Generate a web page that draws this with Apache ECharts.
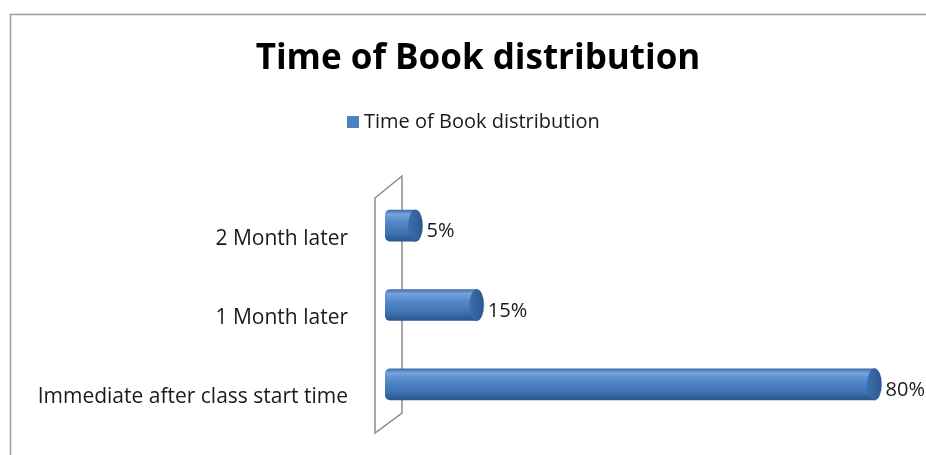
<!DOCTYPE html>
<html>
<head>
<meta charset="utf-8">
<script src="https://cdn.jsdelivr.net/npm/echarts@6/dist/echarts.min.js"></script>
<style>
  html, body { margin: 0; padding: 0; background: #fff; }
  #chart { width: 926px; height: 455px; }
</style>
</head>
<body>
<div id="chart"></div>
<script>
var categories = ['Immediate after class start time', '1 Month later', '2 Month later'];
var percents = [80, 15, 5];
var seriesName = 'Time of Book distribution';

// layout of the plot (px)
var gridLeft = 385, gridTop = 186, gridHeight = 238;

var myChart = echarts.init(document.getElementById('chart'));

var bodyGrad = new echarts.graphic.LinearGradient(0, 0, 0, 1, [
    {offset: 0, color: '#3a69a6'},
    {offset: 0.14, color: '#76a3dd'},
    {offset: 0.35, color: '#578bcc'},
    {offset: 0.75, color: '#3d71b2'},
    {offset: 1, color: '#28538b'}
]);
var capGrad = new echarts.graphic.LinearGradient(0, 0, 1, 0, [
    {offset: 0, color: '#3e6fae'},
    {offset: 1, color: '#2a5790'}
]);

var barData = percents.map(function (v, i) { return [v, i]; });

function renderBar(params, api) {
    var cat = api.value(1);
    var start = api.coord([0, cat]);
    var end = api.coord([api.value(0), cat]);
    var h = api.size([0, 1])[1] * 0.4;
    var rx = 7;
    return {
        type: 'group',
        children: [
            {
                type: 'rect',
                shape: {x: start[0], y: start[1] - h / 2, width: end[0] - start[0], height: h, r: [5, 0, 0, 5]},
                style: {fill: bodyGrad}
            },
            {
                type: 'circle',
                shape: {cx: 0, cy: 0, r: h / 2},
                x: end[0], y: end[1],
                scaleX: rx / (h / 2),
                style: {fill: capGrad, stroke: '#2b5a93', lineWidth: 0.5}
            },
            {
                type: 'text',
                x: end[0] + rx + 4, y: end[1] + 6,
                style: {
                    text: api.value(0) + '%',
                    fill: '#1a1a1a',
                    font: '20px "Open Sans"',
                    verticalAlign: 'middle',
                    align: 'left'
                }
            }
        ]
    };
}

var wx = gridLeft, wTop = gridTop, wBottom = gridTop + gridHeight;

var option = {
    backgroundColor: '#fff',
    animation: false,
    title: {
        text: 'Time of Book distribution',
        left: 473,
        textAlign: 'center',
        top: 37,
        textStyle: {
            fontFamily: 'Open Sans',
            fontWeight: 'bold',
            fontSize: 35,
            color: '#000'
        }
    },
    legend: {
        data: [seriesName],
        left: 342,
        top: 107,
        icon: 'rect',
        itemWidth: 12,
        itemHeight: 12,
        itemGap: 6,
        textStyle: {
            fontFamily: 'Open Sans',
            fontSize: 20,
            color: '#1a1a1a'
        }
    },
    graphic: [
        {
            type: 'rect',
            left: 8, top: 12,
            shape: {width: 1200, height: 900},
            style: {fill: 'none', stroke: '#9a9a9a', lineWidth: 1.5},
            z: 0
        },
        {
            type: 'polygon',
            shape: {points: [[wx - 10, wTop + 12], [wx + 17, wTop - 10], [wx + 17, wBottom - 11], [wx - 10, wBottom + 9]]},
            style: {fill: '#fff', stroke: '#8c8c8c', lineWidth: 1.5},
            z: 0
        }
    ],
    grid: {
        left: gridLeft,
        top: gridTop,
        right: 0,
        height: gridHeight,
        containLabel: false
    },
    xAxis: {
        type: 'value',
        min: 0,
        max: 88.4,
        show: false
    },
    yAxis: {
        type: 'category',
        data: categories,
        axisLine: {show: false},
        axisTick: {show: false},
        splitLine: {show: false},
        axisLabel: {
            margin: 37,
            verticalAlign: 'top',
            lineHeight: 26,
            fontFamily: 'Open Sans',
            fontSize: 21,
            color: '#1a1a1a'
        }
    },
    series: [
        {
            name: seriesName,
            type: 'custom',
            renderItem: renderBar,
            itemStyle: {color: '#4f81bd'},
            encode: {x: 0, y: 1},
            data: barData,
            z: 5
        }
    ]
};

myChart.setOption(option);
</script>
</body>
</html>
